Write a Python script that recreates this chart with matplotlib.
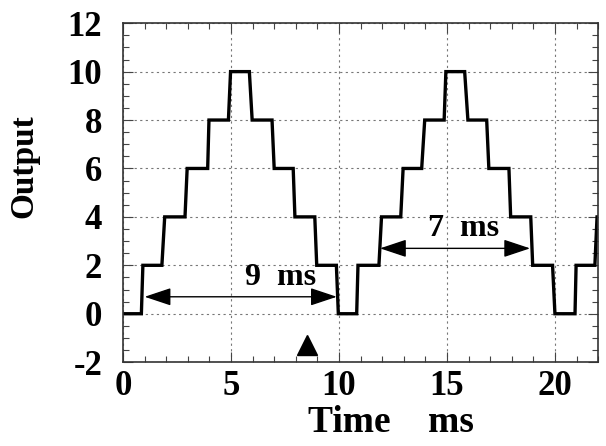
import numpy as np
import matplotlib.pyplot as plt
from matplotlib.ticker import MultipleLocator

# Step levels of the output, with start/end time (ms) of each flat part
seg_start = [0.0, 0.92, 1.93, 2.97, 3.98, 4.98, 5.98, 7.0, 7.96, 8.97, 9.97,
             10.88, 11.97, 12.97, 13.97, 14.95, 15.97, 16.94, 17.95, 18.97, 20.0, 20.98, 21.95]
seg_end = [0.85, 1.8, 2.87, 3.92, 4.88, 5.85, 6.9, 7.88, 8.88, 9.88, 10.82,
           11.85, 12.86, 13.83, 14.87, 15.82, 16.84, 17.87, 18.88, 19.89, 20.93, 21.85, 22.5]
levels = [0, 2, 4, 6, 8, 10, 8, 6, 4, 2, 0,
          2, 4, 6, 8, 10, 8, 6, 4, 2, 0, 2, 4]

# interval annotations: (start, end, y, label, label x, label y)
spans = [(1.0, 9.9, 0.7, '9  ms', 7.3, 1.5),
         (11.9, 18.85, 2.7, '7  ms', 15.75, 3.5)]
marker_t, marker_y = 8.5, -1.3

t = np.ravel(np.column_stack([seg_start, seg_end]))
y = np.repeat(levels, 2)

plt.rcParams['font.family'] = ['Liberation Serif', 'DejaVu Serif']
plt.rcParams['font.weight'] = 'bold'
plt.rcParams['axes.unicode_minus'] = False

fig = plt.figure(figsize=(6.06, 4.46), dpi=100)
ax = fig.add_axes([0.203, 0.188, 0.784, 0.760])

ax.plot(t, y, color='black', lw=2.4, solid_joinstyle='miter')

for a, b, ya, lab, lx, ly in spans:
    ax.annotate('', xy=(b, ya), xytext=(a, ya),
                arrowprops=dict(arrowstyle='<|-|>,head_length=1.65,head_width=0.55',
                                mutation_scale=10, lw=1.0, color='black',
                                shrinkA=0, shrinkB=0))
    ax.text(lx, ly, lab, ha='center', va='center', fontsize=23, fontweight='bold')

ax.plot([marker_t], [marker_y], marker='^', color='black', markersize=15, ls='none')

ax.set_xlim(0, 22)
ax.set_ylim(-2, 12)
ax.xaxis.set_major_locator(MultipleLocator(5))
ax.xaxis.set_minor_locator(MultipleLocator(1))
ax.yaxis.set_major_locator(MultipleLocator(2))
ax.yaxis.set_minor_locator(MultipleLocator(0.5))
ax.tick_params(which='both', direction='in', top=True, right=True, width=0.8, color='#444')
ax.tick_params(which='major', length=7, labelsize=25)
ax.tick_params(axis='x', which='major', pad=6)
ax.tick_params(axis='y', which='major', pad=15)
ax.tick_params(which='minor', length=4)
for lab in ax.get_xticklabels() + ax.get_yticklabels():
    lab.set_fontweight('bold')
for s in ax.spines.values():
    s.set_linewidth(1.2)
    s.set_color('#333')

ax.grid(True, which='major', color='#777', lw=0.8, linestyle=(0, (2, 3)))

ax.set_xlabel('Time    ms', fontsize=27, fontweight='bold')
ax.xaxis.set_label_coords(0.564, -0.125)
ax.set_ylabel('Output', fontsize=24, fontweight='bold')
ax.yaxis.set_label_coords(-0.175, 0.578)

fig.savefig('out.png', dpi=100)
